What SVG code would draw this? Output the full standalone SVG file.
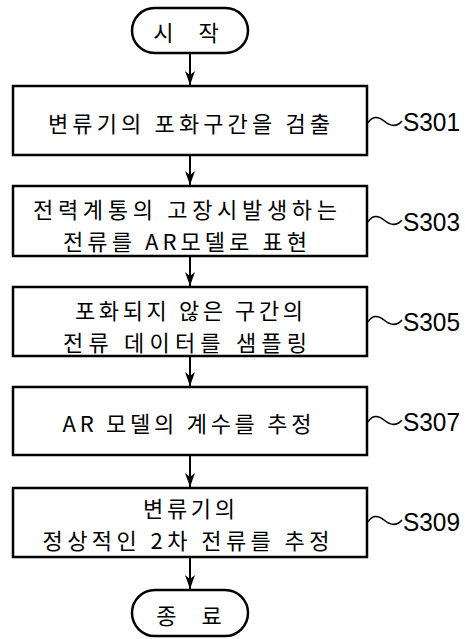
<svg xmlns="http://www.w3.org/2000/svg" width="465" height="639" viewBox="0 0 465 639">
<style>
.box{fill:#fff;stroke:#000;stroke-width:2.5}
.t{font-family:"Noto Sans CJK KR","Liberation Sans",sans-serif;font-size:22px;fill:#000;text-anchor:middle;dominant-baseline:central}
.lbl{font-family:"Liberation Sans",Arial,sans-serif;font-size:25px;fill:#000}
.wave{fill:none;stroke:#000;stroke-width:1.5}
.con{stroke:#000;stroke-width:2;fill:none}
</style>
<defs>
<marker id="ah" markerWidth="14" markerHeight="10" refX="14" refY="5" orient="auto" markerUnits="userSpaceOnUse" viewBox="0 0 14 10">
<path d="M0,0 L14,5 L0,10 L4,5 Z" fill="#000"/>
</marker>
</defs>
<rect width="465" height="639" fill="#fff"/>
<g id="connectors">
<line class="con" x1="190" y1="53" x2="190" y2="85" marker-end="url(#ah)"/>
<line class="con" x1="190" y1="155" x2="190" y2="185" marker-end="url(#ah)"/>
<line class="con" x1="190" y1="256" x2="190" y2="286" marker-end="url(#ah)"/>
<line class="con" x1="190" y1="356" x2="190" y2="386" marker-end="url(#ah)"/>
<line class="con" x1="190" y1="455" x2="190" y2="487" marker-end="url(#ah)"/>
<line class="con" x1="190" y1="557" x2="190" y2="589" marker-end="url(#ah)"/>
</g>
<g id="start">
<rect class="box" x="132" y="8" width="116" height="45" rx="22.5"/>
<text class="t" x="186" y="31" font-size="23" word-spacing="20">시 작</text>
</g>
<g id="s301">
<rect class="box" x="13" y="86" width="354" height="69"/>
<text class="t" x="189" y="122" font-size="23" textLength="282" lengthAdjust="spacing">변류기의 포화구간을 검출</text>
<path class="wave" d="M368,123 C372,116 378,116 384,121 S396,128 402,121"/>
<text class="lbl" x="403" y="131" textLength="57" lengthAdjust="spacingAndGlyphs">S301</text>
</g>
<g id="s303">
<rect class="box" x="13" y="186" width="354" height="70"/>
<text class="t" x="185" y="208" textLength="304" lengthAdjust="spacing">전력계통의 고장시발생하는</text>
<text class="t" x="185" y="240" textLength="244" lengthAdjust="spacing">전류를 AR모델로 표현</text>
<path class="wave" d="M368,222 C372,215 378,215 384,220 S396,227 402,220"/>
<text class="lbl" x="403" y="231" textLength="57" lengthAdjust="spacingAndGlyphs">S303</text>
</g>
<g id="s305">
<rect class="box" x="13" y="287" width="354" height="69"/>
<text class="t" x="189" y="309" textLength="228" lengthAdjust="spacing">포화되지 않은 구간의</text>
<text class="t" x="185" y="341" textLength="244" lengthAdjust="spacing">전류 데이터를 샘플링</text>
<path class="wave" d="M368,322 C372,315 378,315 384,320 S396,327 402,320"/>
<text class="lbl" x="403" y="331" textLength="57" lengthAdjust="spacingAndGlyphs">S305</text>
</g>
<g id="s307">
<rect class="box" x="13" y="387" width="354" height="68"/>
<text class="t" x="187" y="422" font-size="23" textLength="249" lengthAdjust="spacing">AR 모델의 계수를 추정</text>
<path class="wave" d="M368,422 C372,415 378,415 384,420 S396,427 402,420"/>
<text class="lbl" x="403" y="431" textLength="57" lengthAdjust="spacingAndGlyphs">S307</text>
</g>
<g id="s309">
<rect class="box" x="13" y="488" width="354" height="69"/>
<text class="t" x="189" y="507" textLength="92" lengthAdjust="spacing">변류기의</text>
<text class="t" x="186" y="539" textLength="287" lengthAdjust="spacing">정상적인 2차 전류를 추정</text>
<path class="wave" d="M368,522 C372,515 378,515 384,520 S396,527 402,520"/>
<text class="lbl" x="403" y="531" textLength="57" lengthAdjust="spacingAndGlyphs">S309</text>
</g>
<g id="end">
<rect class="box" x="132" y="590" width="116" height="46" rx="23"/>
<text class="t" x="189" y="614" font-size="23" word-spacing="20">종 료</text>
</g>
</svg>
